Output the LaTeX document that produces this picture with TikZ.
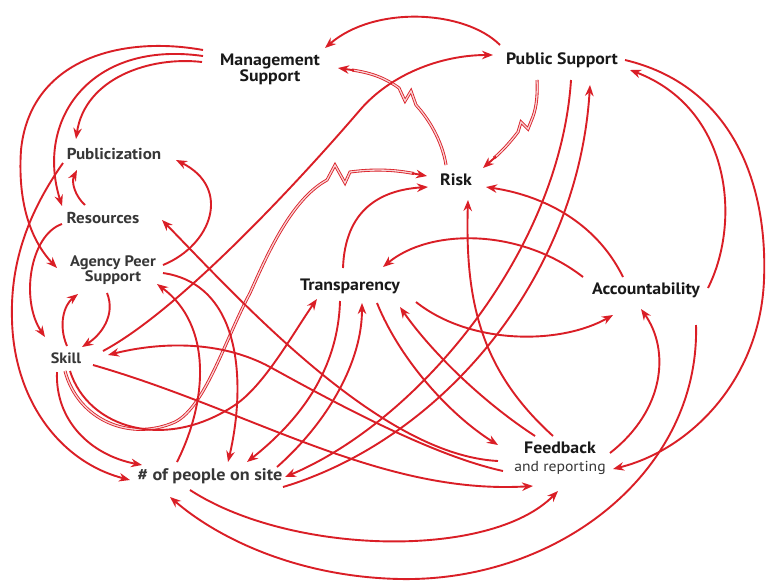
\documentclass[tikz,border=0pt]{standalone}
\usepackage{fontspec}
\setmainfont[FakeStretch=1.08]{PT Sans}
\usetikzlibrary{arrows.meta,calc}
\definecolor{lnred}{RGB}{218,30,38}
\definecolor{txtdark}{RGB}{25,25,25}
\definecolor{txtgrey}{RGB}{55,55,55}
\begin{document}
\begin{tikzpicture}[x=1pt,y=-1pt,
  lab/.style={font=\bfseries\fontsize{16.5}{16}\selectfont, text=txtdark, align=center, inner sep=1pt},
  labb/.style={font=\bfseries\fontsize{15.8}{16}\selectfont, text=txtgrey, align=center, inner sep=1pt},
  link/.style={draw=lnred, line width=1.9pt, -{Stealth[length=11pt,width=8.5pt]}},
  dlink/.style={draw=lnred, line width=0.85pt, double=lnred!20, double distance=1.3pt}]
\fill[white] (0,0) rectangle (767,584);
\useasboundingbox (0,0) rectangle (767,584);

% nodes
\node[lab] (mgmt) at (270,69) {Management\\Support};
\node[lab] (pub) at (562,60) {Public Support};
\node[labb] (publ) at (114,154) {Publicization};
\node[lab] (risk) at (456,180) {Risk};
\node[labb] (res) at (103,218) {Resources};
\node[labb, font=\bfseries\fontsize{15.2}{15.5}\selectfont] (agency) at (113,270) {Agency Peer\\Support};
\node[lab] (transp) at (350,286) {Transparency};
\node[lab] (acc) at (646,290) {Accountability};
\node[labb, font=\bfseries\fontsize{15}{16}\selectfont] (skill) at (66,358) {Skill};
\node[lab, font=\bfseries\fontsize{16.5}{18}\selectfont] (fb) at (560,458) {Feedback\\{\mdseries\fontsize{14.5}{18}\selectfont\color{txtgrey}and reporting}};
\node[labb, font=\bfseries\fontsize{16.8}{16}\selectfont] (people) at (210,476) {\# of people on site};

% Public Support -> Management Support
\draw[link] ($(pub)+(-62,-15)$) .. controls (465,10) and (375,5) .. ($(mgmt)+(55,-21)$);
% Risk -> Management Support (delay)
\draw[dlink] ($(risk)+(-10,-15)$) .. controls (442,140) and (428,118) .. (416,105) -- (411,91) -- (405,101) -- (399,88) .. controls (385,78) and (372,73) .. (352,70);
\draw[link] (354,70.3) -- ($(mgmt)+(68,-1)$);
% Management Support -> Publicization / Resources / Agency
\draw[link] ($(mgmt)+(-68,-7)$) .. controls (150,56) and (85,78) .. ($(publ)+(-38,-15)$);
\draw[link] ($(mgmt)+(-67,-13)$) .. controls (90,40) and (35,120) .. ($(res)+(-41,-12)$);
\draw[link] ($(mgmt)+(-67,-19)$) .. controls (120,35) and (30,60) .. (21,150) .. controls (17,210) and (35,245) .. ($(agency)+(-56,-2)$);
% Resources -> Publicization, Resources -> Skill
\draw[link] ($(res)+(-18,-13)$) .. controls (75,196) and (71,182) .. ($(publ)+(-37,16)$);
\draw[link] ($(res)+(-41,6)$) .. controls (30,235) and (20,300) .. ($(skill)+(-21,-21)$);
% Skill <-> Agency
\draw[link] ($(skill)+(1,-12)$) .. controls (58,325) and (64,305) .. ($(agency)+(-35,24)$);
\draw[link] ($(agency)+(-6,23)$) .. controls (116,315) and (101,335) .. ($(skill)+(16,-11)$);
% Publicization -> people
\draw[link] ($(publ)+(-51,9)$) .. controls (30,210) and (10,260) .. (12,320) .. controls (14,400) and (60,462) .. ($(people)+(-80,4)$);
% Skill -> people
\draw[link] ($(skill)+(-9,14)$) .. controls (55,420) and (90,455) .. ($(people)+(-68,-11)$);
% Skill -> Risk (delay)
\draw[dlink] ($(skill)+(-1,13)$) .. controls (78,420) and (130,442) .. (175,422) .. controls (205,407) and (225,340) .. (250,293) .. controls (265,260) and (290,200) .. (327,180) -- (335,165) -- (345,183) -- (350,172) .. controls (380,168) and (400,171) .. (414,173.5);
\draw[link] (412,173.2) -- ($(risk)+(-29,-4)$);
% Skill -> Transparency
\draw[link] ($(skill)+(4,13)$) .. controls (88,428) and (165,452) .. (235,405) .. controls (265,385) and (295,330) .. ($(transp)+(-33,13)$);
% people -> Agency
\draw[link] ($(people)+(-33,-14)$) .. controls (208,400) and (212,325) .. ($(agency)+(44,14)$);
% Agency -> Publicization
\draw[link] ($(agency)+(50,-5)$) .. controls (212,245) and (232,188) .. ($(publ)+(62,6)$);
% Feedback -> Resources
\draw[link] ($(fb)+(-62,3)$) .. controls (380,455) and (240,300) .. ($(res)+(59,2)$);
% Agency -> people
\draw[link] ($(agency)+(50,3)$) .. controls (245,285) and (245,390) .. ($(people)+(18,-14)$);
% Feedback -> Skill
\draw[link] ($(fb)+(-57,13)$) .. controls (430,455) and (330,400) .. (270,367) .. controls (220,340) and (160,342) .. ($(skill)+(42,-3)$);
% Skill -> Feedback
\draw[link] ($(skill)+(27,7)$) .. controls (250,410) and (380,495) .. ($(fb)+(-27,28)$);
% people -> Feedback
\draw[link] ($(people)+(-20,14)$) .. controls (290,555) and (490,560) .. ($(fb)+(-2,33)$);
% Accountability -> people
\draw[link] ($(acc)+(50,35)$) .. controls (700,470) and (560,582) .. (400,579) .. controls (300,577) and (220,540) .. ($(people)+(-40,21)$);
% Public Support -> Feedback
\draw[link] ($(pub)+(63,0)$) .. controls (730,85) and (768,180) .. (764,280) .. controls (760,380) and (690,450) .. ($(fb)+(53,11)$);
% Accountability -> Public Support
\draw[link] ($(acc)+(62,-2)$) .. controls (742,220) and (730,108) .. ($(pub)+(68,10)$);
% Feedback -> Accountability
\draw[link] ($(fb)+(50,-5)$) .. controls (665,410) and (670,350) .. ($(acc)+(-5,19)$);
% Transparency -> Accountability
\draw[link] ($(transp)+(66,16)$) .. controls (470,345) and (560,345) .. ($(acc)+(-33,25)$);
% Accountability -> Transparency
\draw[link] ($(acc)+(-63,-13)$) .. controls (520,228) and (430,228) .. ($(transp)+(33,-19)$);
% Accountability -> Risk
\draw[link] ($(acc)+(-23,-13)$) .. controls (595,220) and (540,195) .. ($(risk)+(30,7)$);
% Transparency -> Risk
\draw[link] ($(transp)+(-7,-18)$) .. controls (345,210) and (380,190) .. ($(risk)+(-28,7)$);
% Feedback -> Risk
\draw[link] ($(fb)+(-7,-22)$) .. controls (480,370) and (465,300) .. ($(risk)+(12,20)$);
% Public Support <-> people
\draw[link] ($(pub)+(9,20)$) .. controls (560,250) and (420,420) .. ($(people)+(75,1)$);
\draw[link] ($(people)+(73,11)$) .. controls (440,440) and (578,280) .. ($(pub)+(28,25)$);
% people -> Transparency
\draw[link] ($(people)+(67,-9)$) .. controls (330,420) and (362,360) .. ($(transp)+(12,17)$);
% Transparency -> people
\draw[link] ($(transp)+(-10,15)$) .. controls (338,370) and (300,420) .. ($(people)+(37,-14)$);
% Transparency -> Feedback
\draw[link] ($(transp)+(27,17)$) .. controls (400,360) and (450,415) .. ($(fb)+(-62,-13)$);
% Feedback -> Transparency
\draw[link] ($(fb)+(-25,-22)$) .. controls (480,400) and (430,350) .. ($(transp)+(50,21)$);
% Skill -> Public Support
\draw[link] ($(skill)+(37,-7)$) .. controls (180,310) and (300,180) .. (360,110) .. controls (390,75) and (440,55) .. ($(pub)+(-69,-5)$);
% Public Support -> Risk (delay)
\draw[dlink] ($(pub)+(-25,20)$) .. controls (538,100) and (535,112) .. (532,119) -- (528,129) -- (521,122) -- (518,132) .. controls (508,145) and (500,153) .. (494,158);
\draw[link] (496,156.5) -- ($(risk)+(27,-12)$);
\end{tikzpicture}
\end{document}
